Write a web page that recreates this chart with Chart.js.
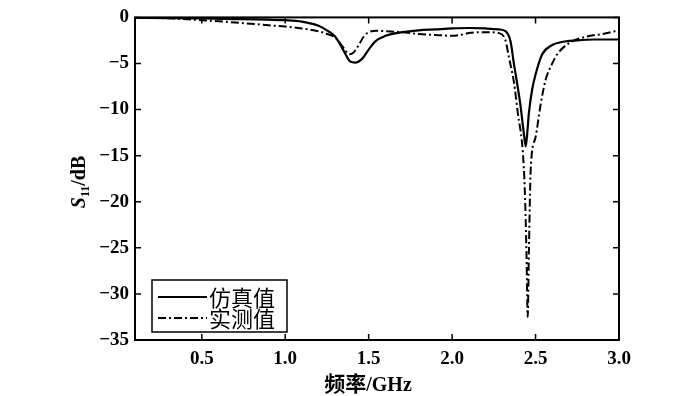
<!DOCTYPE html>
<html>
<head>
<meta charset="utf-8">
<script src="https://cdn.jsdelivr.net/npm/chart.js@4.4.1/dist/chart.umd.min.js"></script>
<style>
    html, body { margin: 0; padding: 0; background: #ffffff; }
    canvas { display: block; }
</style>
</head>
<body>
<canvas id="s11Chart" width="700" height="396"></canvas>
<script>
// --- Data ---

// Simulated S11 (solid line)
const simFreq = [0.10, 0.30, 0.50, 0.70, 0.90, 1.00, 1.10, 1.20, 1.25, 1.30, 1.35, 1.39, 1.42, 1.46, 1.50, 1.54, 1.60, 1.70, 1.80, 1.90, 2.00, 2.10, 2.20, 2.28, 2.32, 2.35, 2.37, 2.39, 2.41, 2.43, 2.441, 2.45, 2.46, 2.48, 2.50, 2.54, 2.60, 2.65, 2.75, 2.85, 3.00];
const simS11  = [-0.05, -0.08, -0.12, -0.18, -0.25, -0.3, -0.45, -0.9, -1.4, -2.1, -3.6, -4.8, -4.9, -4.5, -3.5, -2.6, -2.0, -1.6, -1.4, -1.3, -1.2, -1.15, -1.2, -1.3, -1.5, -2.6, -5.0, -7.2, -9.6, -12.6, -14.0, -12.6, -10.4, -7.8, -6.2, -4.0, -3.0, -2.7, -2.5, -2.4, -2.4];

// Measured S11 (dash-dot line)
const measFreq = [0.10, 0.30, 0.50, 0.70, 0.90, 1.00, 1.10, 1.20, 1.25, 1.30, 1.35, 1.385, 1.41, 1.44, 1.47, 1.50, 1.55, 1.60, 1.70, 1.80, 1.90, 2.00, 2.05, 2.10, 2.20, 2.28, 2.32, 2.34, 2.37, 2.394, 2.424, 2.436, 2.446, 2.453, 2.46, 2.471, 2.50, 2.53, 2.56, 2.60, 2.63, 2.70, 2.80, 2.90, 3.00];
const measS11  = [0, -0.1, -0.3, -0.55, -0.85, -1.0, -1.2, -1.5, -1.8, -2.2, -3.3, -4.0, -3.8, -3.0, -2.1, -1.6, -1.45, -1.5, -1.6, -1.8, -1.9, -2.0, -1.9, -1.7, -1.6, -1.7, -2.5, -4.3, -7.0, -10.4, -14.7, -19.0, -26.0, -32.5, -25.5, -16.5, -13.0, -9.5, -6.8, -5.0, -4.0, -2.8, -2.1, -1.8, -1.4];

// Axis ticks
const xTicks = [0.5, 1.0, 1.5, 2.0, 2.5, 3.0];
const yTicks = [0, -5, -10, -15, -20, -25, -30, -35];

// Legend labels
const seriesNames = ['仿真值', '实测值'];

const SERIF = '"Liberation Serif", "Times New Roman", serif';
const CJK = '"Noto Sans CJK SC", "Noto Sans", sans-serif';
const DASH_DOT = [8, 3, 2, 3];

// --- Plugins ---

/**
 * Draws the box frame, inward tick marks on all four sides,
 * the axis titles and the boxed legend inside the plot.
 */
const frameAndLabels = {
    id: 'frameAndLabels',
    afterDraw(chart) {
        const { ctx, chartArea: a, scales } = chart;
        const tick = 6;

        ctx.save();
        ctx.strokeStyle = '#000';
        ctx.lineWidth = 2;
        ctx.strokeRect(a.left, a.top, a.right - a.left, a.bottom - a.top);

        // inward ticks, matlab style
        ctx.lineWidth = 1.5;
        ctx.beginPath();
        xTicks.forEach(v => {
            const px = scales.x.getPixelForValue(v);
            ctx.moveTo(px, a.bottom); ctx.lineTo(px, a.bottom - tick);
            ctx.moveTo(px, a.top); ctx.lineTo(px, a.top + tick);
        });
        yTicks.forEach(v => {
            const py = scales.y.getPixelForValue(v);
            ctx.moveTo(a.left, py); ctx.lineTo(a.left + tick, py);
            ctx.moveTo(a.right, py); ctx.lineTo(a.right - tick, py);
        });
        ctx.stroke();

        // x title
        ctx.fillStyle = '#000';
        ctx.textBaseline = 'alphabetic';
        ctx.textAlign = 'left';
        const part1 = '频率';
        ctx.font = 'bold 21px ' + CJK;
        const w1 = ctx.measureText(part1).width;
        ctx.font = 'bold 20px ' + SERIF;
        const part2 = '/GHz';
        const w2 = ctx.measureText(part2).width;
        const xStart = 368 - (w1 + w2) / 2;
        ctx.font = 'bold 21px ' + CJK;
        ctx.fillText(part1, xStart, 391);
        ctx.font = 'bold 20px ' + SERIF;
        ctx.fillText(part2, xStart + w1, 391);

        // y title: S11/dB with subscript
        ctx.translate(85, 182);
        ctx.rotate(-Math.PI / 2);
        ctx.font = 'italic bold 20px ' + SERIF;
        const sW = ctx.measureText('S').width;
        ctx.font = 'bold 12px ' + SERIF;
        const subW = ctx.measureText('11').width;
        ctx.font = 'bold 20px ' + SERIF;
        const dbW = ctx.measureText('/dB').width;
        let tx = -(sW + subW + dbW) / 2;
        ctx.font = 'italic bold 20px ' + SERIF;
        ctx.fillText('S', tx, 0);
        tx += sW;
        ctx.font = 'bold 12px ' + SERIF;
        ctx.fillText('11', tx, 4);
        tx += subW;
        ctx.font = 'bold 20px ' + SERIF;
        ctx.fillText('/dB', tx, 0);
        ctx.restore();

        // legend box
        ctx.save();
        ctx.strokeStyle = '#000';
        ctx.lineWidth = 1.5;
        ctx.fillStyle = '#fff';
        ctx.fillRect(152, 280, 135, 52);
        ctx.strokeRect(152, 280, 135, 52);
        const rows = [297, 318];
        rows.forEach((y, i) => {
            ctx.lineWidth = 2;
            ctx.setLineDash(i === 0 ? [] : DASH_DOT);
            ctx.beginPath();
            ctx.moveTo(158, y);
            ctx.lineTo(207, y);
            ctx.stroke();
            ctx.setLineDash([]);
            ctx.fillStyle = '#000';
            ctx.font = '22px ' + CJK;
            ctx.textBaseline = 'middle';
            ctx.fillText(seriesNames[i], 209, y + 1);
        });
        ctx.restore();
    }
};

// --- Chart ---

function buildPoints(xs, ys) {
    return xs.map((x, i) => ({ x: x, y: ys[i] }));
}

function initS11Chart() {
    const ctx = document.getElementById('s11Chart').getContext('2d');

    new Chart(ctx, {
        type: 'line',
        data: {
            datasets: [{
                label: seriesNames[0],
                data: buildPoints(simFreq, simS11),
                borderColor: '#000',
                borderWidth: 2.2,
                pointRadius: 0,
                cubicInterpolationMode: 'monotone',
                fill: false
            }, {
                label: seriesNames[1],
                data: buildPoints(measFreq, measS11),
                borderColor: '#000',
                borderWidth: 2,
                borderDash: DASH_DOT,
                pointRadius: 0,
                cubicInterpolationMode: 'monotone',
                fill: false
            }]
        },
        options: {
            responsive: false,
            animation: false,
            layout: { padding: { left: 70, right: 81, top: 13, bottom: 0 } },
            plugins: {
                legend: { display: false },
                tooltip: { enabled: false }
            },
            scales: {
                x: {
                    type: 'linear',
                    min: 0.1, max: 3.0,
                    grid: { display: false, drawTicks: false },
                    border: { display: false },
                    afterBuildTicks: s => { s.ticks = xTicks.map(v => ({ value: v })); },
                    afterFit: s => { s.height = 56; },
                    ticks: {
                        padding: 8,
                        color: '#000',
                        maxRotation: 0,
                        font: { family: SERIF, size: 19, weight: 'bold' },
                        callback: v => Number(v).toFixed(1)
                    }
                },
                y: {
                    min: -35, max: 0,
                    grid: { display: false, drawTicks: false },
                    border: { display: false },
                    afterBuildTicks: s => { s.ticks = yTicks.map(v => ({ value: v })); },
                    afterFit: s => { s.width = 65; },
                    ticks: {
                        padding: 6,
                        color: '#000',
                        font: { family: SERIF, size: 19, weight: 'bold' },
                        callback: v => v < 0 ? '\u2212' + Math.abs(v) : String(v)
                    }
                }
            }
        },
        plugins: [frameAndLabels]
    });
}

document.addEventListener('DOMContentLoaded', () => {
    try {
        initS11Chart();
    } catch (error) {
        console.error('Error drawing S11 chart:', error);
    }
});
</script>
</body>
</html>
